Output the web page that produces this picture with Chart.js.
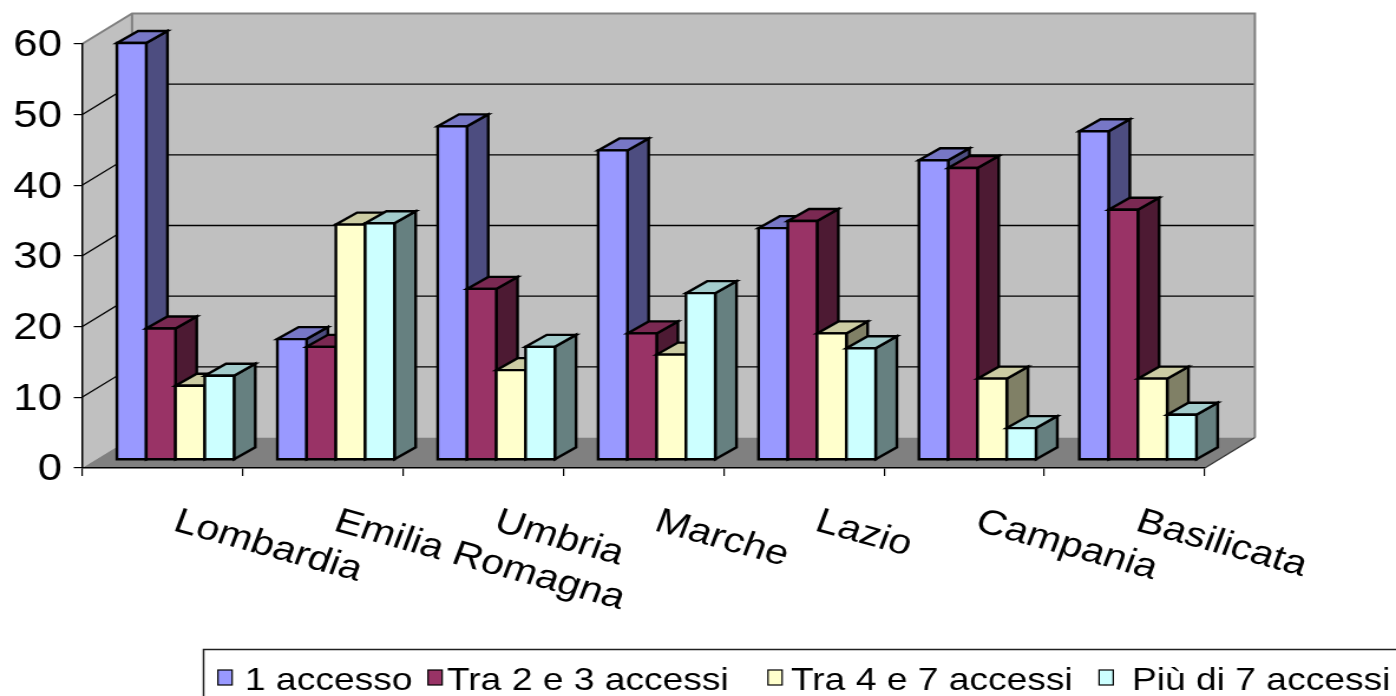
<!DOCTYPE html>
<html>
<head>
<meta charset="utf-8">
<title>Accessi per regione</title>
<script src="https://cdn.jsdelivr.net/npm/chart.js@4.4.0/dist/chart.umd.min.js"></script>
<style>
  html, body { margin: 0; padding: 0; background: #ffffff; overflow: hidden; }
  #chart { display: block; }
</style>
</head>
<body>
<!-- drawn on a narrower canvas and widened by CSS, like the original wide-format export -->
<canvas id="chart" width="1183" height="696" style="width:1396px;height:696px"></canvas>
<script>
// ---- data ----
const categories = ['Lombardia', 'Emilia Romagna', 'Umbria', 'Marche', 'Lazio', 'Campania', 'Basilicata'];
const seriesNames = ['1 accesso', 'Tra 2 e 3 accessi', 'Tra 4 e 7 accessi', 'Più di 7 accessi'];
const unAccesso   = [59.0, 17.1, 47.2, 43.8, 32.8, 42.4, 46.5];
const tra2e3      = [18.6, 16.0, 24.2, 17.9, 33.8, 41.3, 35.4];
const tra4e7      = [10.5, 33.3, 12.7, 14.9, 17.9, 11.5, 11.5];
const piuDi7      = [11.9, 33.5, 16.0, 23.6, 15.8,  4.5,  6.4];
const yTicks      = [0, 10, 20, 30, 40, 50, 60];

// ---- styling ----
const FONT = "'Liberation Sans', Arial, Helvetica, sans-serif";
const W = 1183;
const faces = [
  { front: '#9999FF', top: '#7777C6', side: '#4D4D80' },
  { front: '#993366', top: '#7A2952', side: '#4D1A33' },
  { front: '#FFFFCC', top: '#CCCCA3', side: '#808066' },
  { front: '#CCFFFF', top: '#A3CCCC', side: '#668080' }
];
const WALL = { dx: 42.4, dy: -30.5 };      // depth of the floor / side wall
const BAR_POS = 0.265;                      // where the bars stand inside that depth
const BAR_DEPTH = { dx: 18, dy: -12 };      // thickness of each bar
const LABEL_ANGLE = 18 * Math.PI / 180;
const legendBoxX  = [184.7, 362.7, 650.8, 931.4];
const legendTextX = [207.6, 378.8, 670.3, 959.3];

function poly(ctx, pts, fill, stroke) {
  ctx.beginPath();
  ctx.moveTo(pts[0][0], pts[0][1]);
  for (let i = 1; i < pts.length; i++) ctx.lineTo(pts[i][0], pts[i][1]);
  ctx.closePath();
  if (fill) { ctx.fillStyle = fill; ctx.fill(); }
  if (stroke) { ctx.stroke(); }
}

const box3d = {
  id: 'box3d',
  beforeDraw(chart) {
    const { ctx, chartArea: a } = chart;
    const y = chart.scales.y;
    const ox = WALL.dx, oy = WALL.dy;
    ctx.save();
    // back wall
    ctx.fillStyle = '#C0C0C0';
    ctx.fillRect(a.left + ox, a.top + oy, a.right - a.left, a.bottom - a.top);
    // side wall
    poly(ctx, [[a.left, a.bottom], [a.left, a.top], [a.left + ox, a.top + oy], [a.left + ox, a.bottom + oy]], '#C0C0C0');
    // floor
    poly(ctx, [[a.left, a.bottom], [a.right, a.bottom], [a.right + ox, a.bottom + oy], [a.left + ox, a.bottom + oy]], '#808080');
    // gridlines on the walls
    ctx.strokeStyle = '#000000';
    ctx.lineWidth = 1.3;
    yTicks.forEach(v => {
      if (v <= y.min || v >= y.max) return;
      const py = y.getPixelForValue(v);
      ctx.beginPath();
      ctx.moveTo(a.left, py);
      ctx.lineTo(a.left + ox, py + oy);
      ctx.lineTo(a.right + ox, py + oy);
      ctx.stroke();
    });
    // wall edges
    ctx.strokeStyle = '#808080';
    ctx.lineWidth = 2;
    ctx.beginPath();
    ctx.moveTo(a.left, a.top);
    ctx.lineTo(a.left + ox, a.top + oy);
    ctx.lineTo(a.right + ox, a.top + oy);
    ctx.lineTo(a.right + ox, a.bottom + oy);
    ctx.moveTo(a.left + ox, a.top + oy);
    ctx.lineTo(a.left + ox, a.bottom + oy);
    ctx.stroke();
    ctx.strokeStyle = '#333333';
    ctx.lineWidth = 1.2;
    ctx.beginPath();
    ctx.moveTo(a.right, a.bottom);
    ctx.lineTo(a.right + ox, a.bottom + oy);
    ctx.stroke();
    ctx.restore();
  },
  beforeDatasetsDraw(chart) {
    const { ctx } = chart;
    const bx = WALL.dx * BAR_POS, by = WALL.dy * BAR_POS;
    const dx = BAR_DEPTH.dx, dy = BAR_DEPTH.dy;
    const metas = chart.getSortedVisibleDatasetMetas().slice().sort((m, n) => m.index - n.index);
    ctx.save();
    ctx.lineWidth = 2.4;
    ctx.strokeStyle = '#000000';
    ctx.lineJoin = 'miter';
    for (let i = 0; i < categories.length; i++) {
      metas.forEach(meta => {
        const el = meta.data[i];
        if (!el) return;
        const p = el.getProps(['x', 'y', 'base', 'width'], true);
        const L = p.x - p.width / 2 + bx, R = p.x + p.width / 2 + bx;
        const T = p.y + by, B = p.base + by;
        const f = faces[meta.index];
        poly(ctx, [[R, B], [R + dx, B + dy], [R + dx, T + dy], [R, T]], f.side, true);
        poly(ctx, [[L, T], [L + dx, T + dy], [R + dx, T + dy], [R, T]], f.top, true);
        poly(ctx, [[L, B], [L, T], [R, T], [R, B]], f.front, true);
      });
    }
    ctx.restore();
    return false;
  },
  afterDraw(chart) {
    const { ctx } = chart;
    const x = chart.scales.x;
    ctx.save();
    // category labels, slanted downward
    ctx.fillStyle = '#000000';
    ctx.font = '35px ' + FONT;
    ctx.textAlign = 'left';
    ctx.textBaseline = 'alphabetic';
    categories.forEach((c, i) => {
      const px = x.getPixelForValue(i) + 8;
      ctx.save();
      ctx.translate(px, 530);
      ctx.rotate(LABEL_ANGLE);
      ctx.fillText(c, 0, 0);
      ctx.restore();
    });
    // legend
    ctx.strokeStyle = '#202020';
    ctx.lineWidth = 1.5;
    ctx.beginPath();
    ctx.moveTo(W + 5, 649.5);
    ctx.lineTo(172.5, 649.5);
    ctx.lineTo(172.5, 700);
    ctx.stroke();
    ctx.font = '31.5px ' + FONT;
    ctx.lineWidth = 1.2;
    chart.data.datasets.forEach((ds, k) => {
      ctx.fillStyle = ds.backgroundColor;
      ctx.fillRect(legendBoxX[k], 670, 12, 15);
      ctx.strokeStyle = '#000000';
      ctx.strokeRect(legendBoxX[k], 670, 12, 15);
      ctx.fillStyle = '#000000';
      ctx.fillText(ds.label, legendTextX[k], 690);
    });
    ctx.restore();
  }
};

const seriesValues = [unAccesso, tra2e3, tra4e7, piuDi7];

new Chart(document.getElementById('chart'), {
  type: 'bar',
  data: {
    labels: categories,
    datasets: seriesNames.map((name, k) => ({
      label: name,
      data: seriesValues[k],
      backgroundColor: faces[k].front,
      borderColor: '#000000',
      borderWidth: 0,
      categoryPercentage: 0.73,
      barPercentage: 1.0
    }))
  },
  options: {
    responsive: false,
    animation: false,
    events: [],
    layout: { padding: { left: 0, right: W - 1021, top: 44, bottom: 0 } },
    plugins: { legend: { display: false }, tooltip: { enabled: false } },
    scales: {
      x: {
        type: 'category',
        offset: true,
        grid: { offset: true, drawOnChartArea: false, drawTicks: true, tickLength: 8, color: '#000000', lineWidth: 1.2 },
        border: { display: true, color: '#000000', width: 1.5 },
        ticks: { display: false },
        afterFit: s => { s.height = 228; }
      },
      y: {
        min: 0,
        max: 60,
        afterBuildTicks: s => { s.ticks = yTicks.map(v => ({ value: v })); },
        grid: { drawOnChartArea: false, drawTicks: true, tickLength: 7, color: '#000000', lineWidth: 1.2 },
        border: { display: true, color: '#000000', width: 1.5 },
        ticks: { font: { family: FONT, size: 37 }, color: '#000000', padding: 10, labelOffset: 2 },
        afterFit: s => { s.width = 69.5; }
      }
    }
  },
  plugins: [box3d]
});
</script>
</body>
</html>
